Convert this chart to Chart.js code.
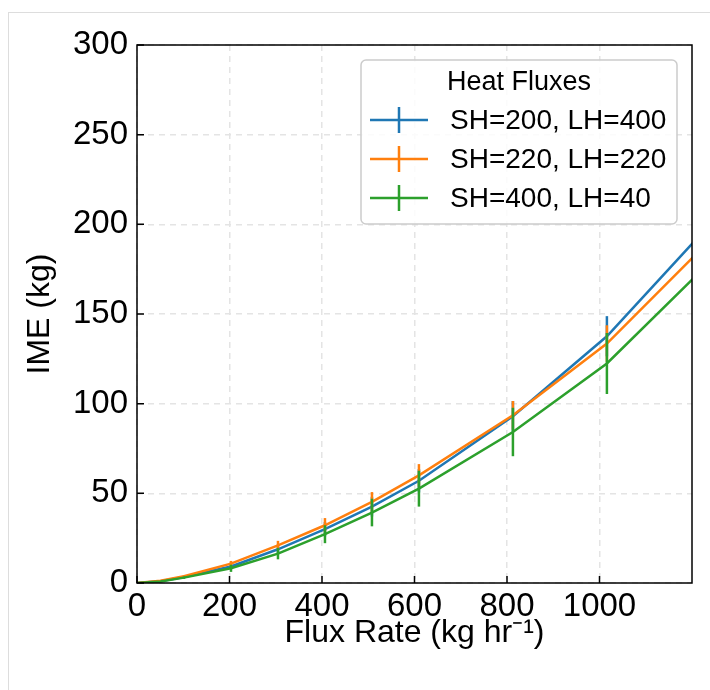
<!DOCTYPE html>
<html>
<head>
<meta charset="utf-8">
<script src="https://cdn.jsdelivr.net/npm/chart.js@4.4.1/dist/chart.umd.min.js"></script>
<style>
  html, body { margin: 0; padding: 0; background: #fff; }
  #frame { position: absolute; left: 8px; top: 12px; width: 720px; height: 700px; border-left: 1px solid #ddd; border-top: 1px solid #ddd; }
  #wrap { position: absolute; left: 0; top: 0; width: 710px; height: 690px; }
</style>
</head>
<body>
<div id="frame"></div>
<div id="wrap"><canvas id="myChart" width="710" height="690"></canvas></div>
<script>
// flux rate (kg/hr) and IME (kg)
const fluxRate = [0, 50.8, 101.6, 203.2, 304.8, 406.4, 508, 609.6, 812.8, 1016, 1219.2];
const imeSH200 = [0, 1.0, 3.3, 9.2, 18.8, 30.0, 42.6, 57.0, 93.0, 137.6, 194.5];
const imeSH220 = [0, 1.2, 3.8, 10.8, 21.0, 32.2, 45.2, 60.0, 93.5, 133.5, 186.0];
const imeSH400 = [0, 0.9, 3.0, 8.2, 16.4, 27.2, 39.3, 52.6, 84.2, 122.4, 174.0];
const errSH200 = [0, 0, 0.5, 1.5, 2.5, 4.0, 5.5, 6.5, 8.5, 11.2, 13.0];
const errSH220 = [0, 0, 0.5, 1.5, 2.5, 4.0, 5.5, 6.3, 8.0, 10.2, 12.0];
const errSH400 = [0, 0, 0.7, 2.0, 3.2, 5.0, 7.7, 10.0, 13.5, 17.0, 20.0];
const seriesLabels = ['SH=200, LH=400', 'SH=220, LH=220', 'SH=400, LH=40'];
const xTicks = [0, 200, 400, 600, 800, 1000];
const yTicks = [0, 50, 100, 150, 200, 250, 300];

const colors = ['#1f77b4', '#ff7f0e', '#2ca02c'];
const FONT = "'Liberation Sans', Arial, sans-serif";

function toPoints(ys) {
  return fluxRate.map((x, i) => ({ x: x, y: ys[i] }));
}

// error bars, drawn right after each line like matplotlib does
const errorBars = {
  id: 'errorBars',
  afterDatasetDraw(chart, args) {
    const ds = chart.data.datasets[args.index];
    if (!ds.err) return;
    const { ctx, chartArea, scales } = chart;
    ctx.save();
    ctx.beginPath();
    ctx.rect(chartArea.left, chartArea.top, chartArea.right - chartArea.left, chartArea.bottom - chartArea.top);
    ctx.clip();
    ctx.strokeStyle = ds.borderColor;
    ctx.lineWidth = 2.5;
    for (let i = 0; i < fluxRate.length; i++) {
      if (!ds.err[i]) continue;
      const px = scales.x.getPixelForValue(fluxRate[i]);
      const y1 = scales.y.getPixelForValue(ds.data[i].y - ds.err[i]);
      const y2 = scales.y.getPixelForValue(ds.data[i].y + ds.err[i]);
      ctx.beginPath();
      ctx.moveTo(px, y1);
      ctx.lineTo(px, y2);
      ctx.stroke();
    }
    ctx.restore();
  }
};

// black frame + inward tick marks + legend box
const frameAndLegend = {
  id: 'frameAndLegend',
  afterDraw(chart) {
    const { ctx, chartArea, scales } = chart;
    const a = chartArea;
    ctx.save();
    ctx.strokeStyle = '#000';
    ctx.lineWidth = 1.5;
    ctx.strokeRect(a.left, a.top, a.right - a.left, a.bottom - a.top);
    ctx.beginPath();
    xTicks.forEach(v => {
      const px = scales.x.getPixelForValue(v);
      ctx.moveTo(px, a.bottom);
      ctx.lineTo(px, a.bottom - 7);
    });
    yTicks.forEach(v => {
      const py = scales.y.getPixelForValue(v);
      ctx.moveTo(a.left, py);
      ctx.lineTo(a.left + 7, py);
    });
    ctx.stroke();

    // legend
    const bx = a.left + 224, by = a.top + 15;
    const bw = 316, bh = 164;
    ctx.beginPath();
    ctx.roundRect(bx, by, bw, bh, 5);
    ctx.fillStyle = 'rgba(255,255,255,0.85)';
    ctx.fill();
    ctx.strokeStyle = '#cccccc';
    ctx.lineWidth = 1.5;
    ctx.stroke();

    ctx.fillStyle = '#000';
    ctx.font = '27px ' + FONT;
    ctx.textAlign = 'center';
    ctx.textBaseline = 'middle';
    ctx.fillText('Heat Fluxes', bx + bw / 2, by + 23);

    ctx.font = '28px ' + FONT;
    ctx.textAlign = 'left';
    seriesLabels.forEach((lab, i) => {
      const cy = by + 60 + i * 39;
      ctx.strokeStyle = colors[i];
      ctx.lineWidth = 2.5;
      ctx.beginPath();
      ctx.moveTo(bx + 9, cy);
      ctx.lineTo(bx + 67, cy);
      ctx.moveTo(bx + 38, cy - 13);
      ctx.lineTo(bx + 38, cy + 13);
      ctx.stroke();
      ctx.fillStyle = '#000';
      ctx.fillText(lab, bx + 89, cy + 1);
    });
    ctx.restore();
  }
};

const ctx = document.getElementById('myChart');
new Chart(ctx, {
  type: 'line',
  data: {
    datasets: [
      { label: seriesLabels[0], data: toPoints(imeSH200), err: errSH200, borderColor: colors[0], order: 2 },
      { label: seriesLabels[1], data: toPoints(imeSH220), err: errSH220, borderColor: colors[1], order: 1 },
      { label: seriesLabels[2], data: toPoints(imeSH400), err: errSH400, borderColor: colors[2], order: 0 }
    ]
  },
  options: {
    responsive: false,
    animation: false,
    devicePixelRatio: 1,
    layout: { padding: { top: 45, right: 18, left: 0, bottom: 0 } },
    elements: {
      line: { borderWidth: 2.5, tension: 0, fill: false },
      point: { radius: 0, hoverRadius: 0 }
    },
    plugins: {
      legend: { display: false },
      tooltip: { enabled: false }
    },
    scales: {
      x: {
        type: 'linear',
        min: 0,
        max: 1200,
        afterBuildTicks: scale => { scale.ticks = xTicks.map(v => ({ value: v })); },
        afterFit: scale => { scale.height = 107; },
        ticks: { color: '#000', font: { size: 33, family: FONT }, padding: 4, maxRotation: 0, callback: v => String(v) },
        grid: { color: '#e4e4e4', lineWidth: 1.5, drawTicks: false },
        border: { display: false, dash: [6, 5] },
        title: {
          display: true,
          text: 'Flux Rate (kg hr\u207B\u00B9)',
          color: '#000',
          font: { size: 32, family: FONT },
          padding: { top: 0, bottom: 38 }
        }
      },
      y: {
        min: 0,
        max: 300,
        afterBuildTicks: scale => { scale.ticks = yTicks.map(v => ({ value: v })); },
        afterFit: scale => { scale.width = 137; },
        ticks: { color: '#000', font: { size: 33, family: FONT }, padding: 9, callback: v => String(v) },
        grid: { color: '#e4e4e4', lineWidth: 1.5, drawTicks: false },
        border: { display: false, dash: [6, 5] },
        title: {
          display: true,
          text: 'IME (kg)',
          color: '#000',
          font: { size: 32, family: FONT },
          padding: { top: 21, bottom: 0 }
        }
      }
    }
  },
  plugins: [errorBars, frameAndLegend]
});
</script>
</body>
</html>
